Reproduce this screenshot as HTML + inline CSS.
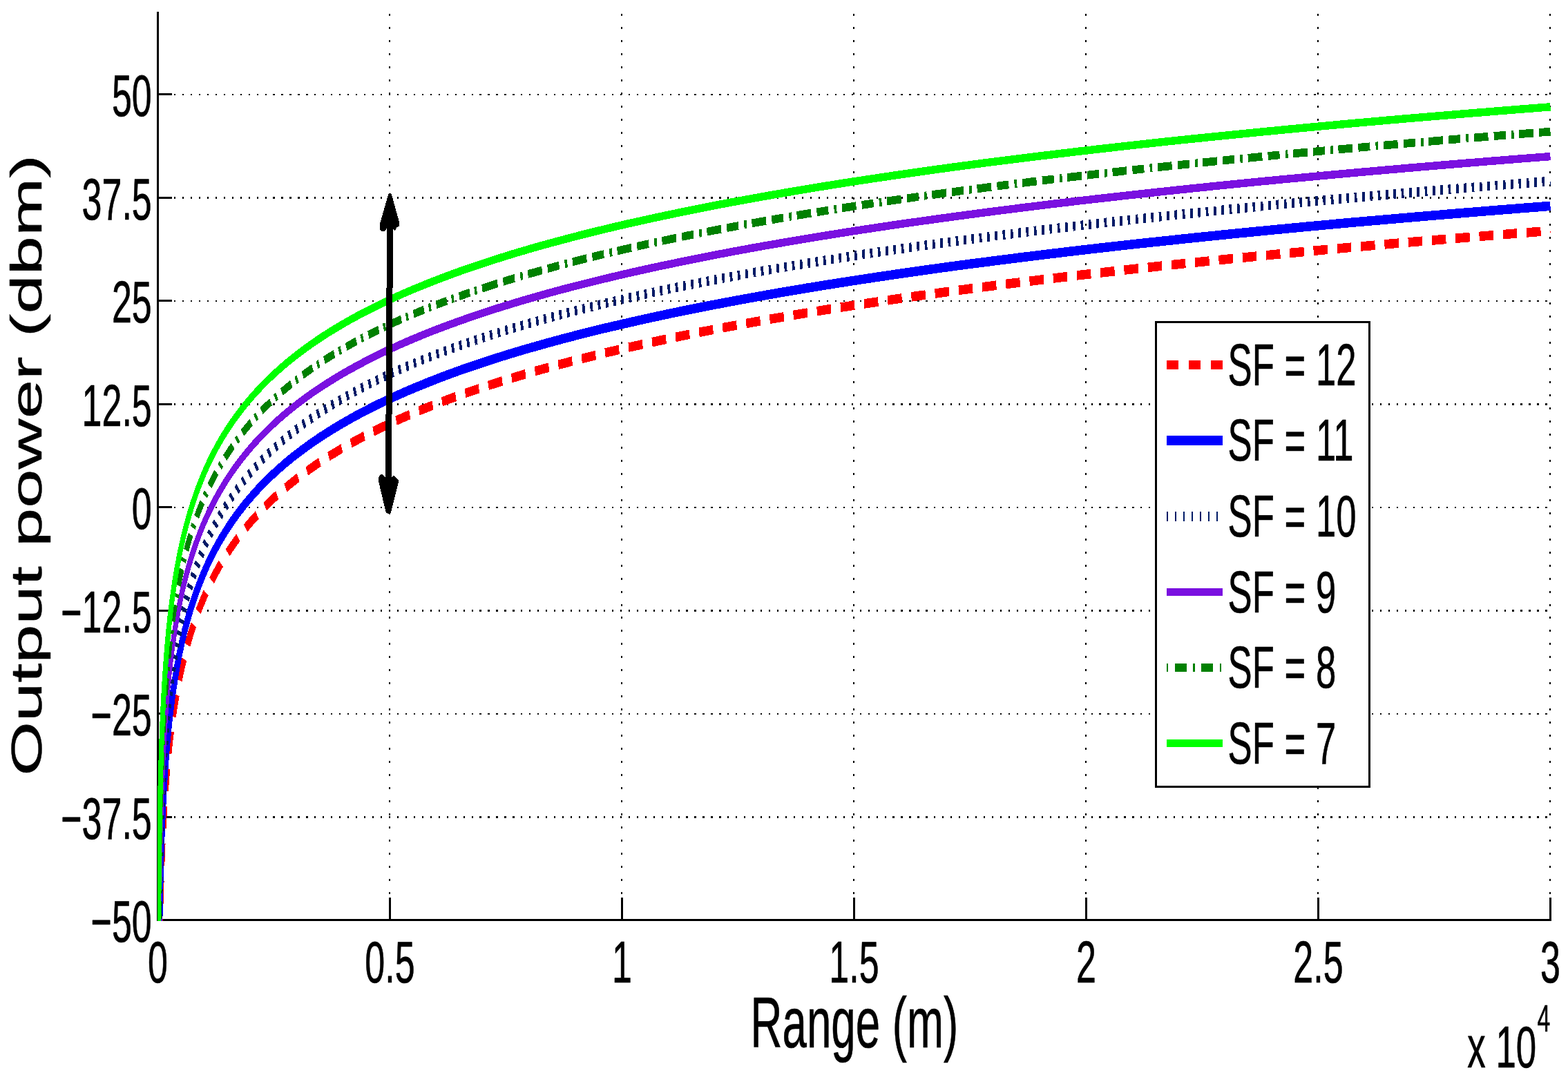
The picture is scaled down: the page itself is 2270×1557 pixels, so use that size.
<!DOCTYPE html>
<html lang="en"><head><meta charset="utf-8"><title>Output power vs Range</title>
<style>html,body{margin:0;padding:0;background:#fff}svg{display:block}text{font-family:"Liberation Sans",Arial,Helvetica,sans-serif;fill:#000;stroke:#000;stroke-width:0.7px;stroke-linejoin:round}</style></head><body>
<svg width="2270" height="1557" viewBox="0 0 2270 1557" role="img" aria-label="Output power (dbm) versus Range (m) for SF = 7 to SF = 12">
<rect x="0" y="0" width="2270" height="1557" fill="#fff"/>
<defs><clipPath id="ax"><rect x="228.00" y="17.00" width="2018.00" height="1317.00"/></clipPath></defs>
<g stroke="#000" fill="none" shape-rendering="crispEdges">
<line x1="251.95" y1="137.00" x2="2246.00" y2="137.00" stroke-width="2.2" stroke-dasharray="2.2 9.76"/>
<line x1="251.95" y1="286.50" x2="2246.00" y2="286.50" stroke-width="2.2" stroke-dasharray="2.2 9.76"/>
<line x1="251.95" y1="436.00" x2="2246.00" y2="436.00" stroke-width="2.2" stroke-dasharray="2.2 9.76"/>
<line x1="251.95" y1="585.50" x2="2246.00" y2="585.50" stroke-width="2.2" stroke-dasharray="2.2 9.76"/>
<line x1="251.95" y1="735.00" x2="2246.00" y2="735.00" stroke-width="2.2" stroke-dasharray="2.2 9.76"/>
<line x1="251.95" y1="884.50" x2="2246.00" y2="884.50" stroke-width="2.2" stroke-dasharray="2.2 9.76"/>
<line x1="251.95" y1="1034.00" x2="2246.00" y2="1034.00" stroke-width="2.2" stroke-dasharray="2.2 9.76"/>
<line x1="251.95" y1="1183.50" x2="2246.00" y2="1183.50" stroke-width="2.2" stroke-dasharray="2.2 9.76"/>
<line x1="564.20" y1="20.4" x2="564.20" y2="1300" stroke-width="2.2" stroke-dasharray="3 15.98"/>
<line x1="900.20" y1="20.4" x2="900.20" y2="1300" stroke-width="2.2" stroke-dasharray="3 15.98"/>
<line x1="1236.20" y1="20.4" x2="1236.20" y2="1300" stroke-width="2.2" stroke-dasharray="3 15.98"/>
<line x1="1572.20" y1="20.4" x2="1572.20" y2="1300" stroke-width="2.2" stroke-dasharray="3 15.98"/>
<line x1="1908.20" y1="20.4" x2="1908.20" y2="1300" stroke-width="2.2" stroke-dasharray="3 15.98"/>
<line x1="2244.20" y1="20.4" x2="2244.20" y2="1300" stroke-width="2.2" stroke-dasharray="3 15.98"/>
</g>
<g fill="#000" shape-rendering="crispEdges">
<rect x="227" y="17.0" width="3" height="1317.0"/>
<rect x="227" y="1331" width="2019" height="3"/>
<rect x="230" y="135.00" width="19" height="3"/>
<rect x="230" y="284.50" width="19" height="3"/>
<rect x="230" y="434.00" width="19" height="3"/>
<rect x="230" y="583.50" width="19" height="3"/>
<rect x="230" y="733.00" width="19" height="3"/>
<rect x="230" y="882.50" width="19" height="3"/>
<rect x="230" y="1032.00" width="19" height="3"/>
<rect x="230" y="1181.50" width="19" height="3"/>
<rect x="563.00" y="1300" width="3" height="31"/>
<rect x="899.00" y="1300" width="3" height="31"/>
<rect x="1235.00" y="1300" width="3" height="31"/>
<rect x="1571.00" y="1300" width="3" height="31"/>
<rect x="1907.00" y="1300" width="3" height="31"/>
<rect x="2243.00" y="1300" width="3" height="31"/>
</g>
<g clip-path="url(#ax)"><g transform="scale(0.63 1)" fill="none" stroke-linejoin="round" shape-rendering="crispEdges">
<path d="M363.2,1689.8 L363.2,1686.4 L363.3,1683.0 L363.3,1679.6 L363.3,1676.2 L363.3,1672.9 L363.3,1669.5 L363.3,1666.1 L363.3,1662.7 L363.3,1659.3 L363.4,1655.9 L363.4,1652.5 L363.4,1649.1 L363.4,1645.7 L363.4,1642.4 L363.4,1639.0 L363.5,1635.6 L363.5,1632.2 L363.5,1628.8 L363.5,1625.4 L363.5,1622.0 L363.5,1618.6 L363.6,1615.2 L363.6,1611.9 L363.6,1608.5 L363.6,1605.1 L363.6,1601.7 L363.7,1598.3 L363.7,1594.9 L363.7,1591.5 L363.7,1588.1 L363.7,1584.7 L363.8,1581.4 L363.8,1578.0 L363.8,1574.6 L363.8,1571.2 L363.9,1567.8 L363.9,1564.4 L363.9,1561.0 L363.9,1557.6 L364.0,1554.2 L364.0,1550.9 L364.0,1547.5 L364.1,1544.1 L364.1,1540.7 L364.1,1537.3 L364.1,1533.9 L364.2,1530.5 L364.2,1527.1 L364.2,1523.7 L364.3,1520.3 L364.3,1517.0 L364.4,1513.6 L364.4,1510.2 L364.4,1506.8 L364.5,1503.4 L364.5,1500.0 L364.5,1496.6 L364.6,1493.2 L364.6,1489.8 L364.7,1486.5 L364.7,1483.1 L364.8,1479.7 L364.8,1476.3 L364.8,1472.9 L364.9,1469.5 L364.9,1466.1 L365.0,1462.7 L365.0,1459.3 L365.1,1456.0 L365.1,1452.6 L365.2,1449.2 L365.3,1445.8 L365.3,1442.4 L365.4,1439.0 L365.4,1435.6 L365.5,1432.2 L365.5,1428.8 L365.6,1425.5 L365.7,1422.1 L365.7,1418.7 L365.8,1415.3 L365.9,1411.9 L365.9,1408.5 L366.0,1405.1 L366.1,1401.7 L366.2,1398.3 L366.2,1395.0 L366.3,1391.6 L366.4,1388.2 L366.5,1384.8 L366.6,1381.4 L366.6,1378.0 L366.7,1374.6 L366.8,1371.2 L366.9,1367.8 L367.0,1364.5 L367.1,1361.1 L367.2,1357.7 L367.3,1354.3 L367.4,1350.9 L367.5,1347.5 L367.6,1344.1 L367.7,1340.7 L367.8,1337.3 L367.9,1334.0 L368.0,1330.6 L368.2,1327.2 L368.3,1323.8 L368.4,1320.4 L368.5,1317.0 L368.7,1313.6 L368.8,1310.2 L368.9,1306.8 L369.1,1303.5 L369.2,1300.1 L369.3,1296.7 L369.5,1293.3 L369.6,1289.9 L369.8,1286.5 L370.0,1283.1 L370.1,1279.7 L370.3,1276.3 L370.4,1273.0 L370.6,1269.6 L370.8,1266.2 L371.0,1262.8 L371.1,1259.4 L371.3,1256.0 L371.5,1252.6 L371.7,1249.2 L371.9,1245.8 L372.1,1242.5 L372.3,1239.1 L372.5,1235.7 L372.7,1232.3 L373.0,1228.9 L373.2,1225.5 L373.4,1222.1 L373.7,1218.7 L373.9,1215.3 L374.1,1212.0 L374.4,1208.6 L374.7,1205.2 L374.9,1201.8 L375.2,1198.4 L375.5,1195.0 L375.7,1191.6 L376.0,1188.2 L376.3,1184.8 L376.6,1181.4 L376.9,1178.1 L377.2,1174.7 L377.6,1171.3 L377.9,1167.9 L378.2,1164.5 L378.6,1161.1 L378.9,1157.7 L379.3,1154.3 L379.6,1150.9 L380.0,1147.6 L380.4,1144.2 L380.8,1140.8 L381.2,1137.4 L381.6,1134.0 L382.0,1130.6 L382.4,1127.2 L382.9,1123.8 L383.3,1120.4 L383.7,1117.1 L384.2,1113.7 L384.7,1110.3 L385.2,1106.9 L385.7,1103.5 L386.2,1100.1 L386.7,1096.7 L387.2,1093.3 L387.7,1089.9 L388.3,1086.6 L388.9,1083.2 L389.4,1079.8 L390.0,1076.4 L390.6,1073.0 L391.2,1069.6 L391.9,1066.2 L392.5,1062.8 L393.2,1059.4 L393.8,1056.1 L394.5,1052.7 L395.2,1049.3 L395.9,1045.9 L396.7,1042.5 L397.4,1039.1 L398.2,1035.7 L399.0,1032.3 L399.8,1028.9 L400.6,1025.6 L401.4,1022.2 L402.3,1018.8 L403.1,1015.4 L404.0,1012.0 L404.9,1008.6 L405.8,1005.2 L406.8,1001.8 L407.8,998.4 L408.8,995.1 L409.8,991.7 L410.8,988.3 L411.9,984.9 L412.9,981.5 L414.0,978.1 L415.2,974.7 L416.3,971.3 L417.5,967.9 L418.7,964.6 L419.9,961.2 L421.2,957.8 L422.5,954.4 L423.8,951.0 L425.1,947.6 L426.5,944.2 L427.9,940.8 L429.4,937.4 L430.8,934.1 L432.3,930.7 L433.9,927.3 L435.4,923.9 L437.0,920.5 L438.7,917.1 L440.3,913.7 L442.0,910.3 L443.8,906.9 L445.6,903.6 L447.4,900.2 L449.2,896.8 L451.1,893.4 L453.1,890.0 L455.1,886.6 L457.1,883.2 L459.2,879.8 L461.3,876.4 L463.5,873.1 L465.7,869.7 L467.9,866.3 L470.3,862.9 L472.6,859.5 L475.0,856.1 L477.5,852.7 L480.0,849.3 L482.6,845.9 L485.3,842.5 L488.0,839.2 L490.7,835.8 L493.5,832.4 L496.4,829.0 L499.3,825.6 L502.3,822.2 L505.4,818.8 L508.5,815.4 L511.8,812.0 L515.0,808.7 L518.4,805.3 L521.8,801.9 L525.3,798.5 L528.9,795.1 L532.5,791.7 L536.3,788.3 L540.1,784.9 L544.0,781.5 L548.0,778.2 L552.0,774.8 L556.2,771.4 L560.5,768.0 L564.8,764.6 L569.3,761.2 L573.8,757.8 L578.4,754.4 L583.2,751.0 L588.0,747.7 L593.0,744.3 L598.0,740.9 L603.2,737.5 L608.5,734.1 L613.9,730.7 L619.4,727.3 L625.1,723.9 L630.8,720.5 L636.7,717.2 L642.8,713.8 L648.9,710.4 L655.2,707.0 L661.7,703.6 L668.2,700.2 L674.9,696.8 L681.8,693.4 L688.8,690.0 L696.0,686.7 L703.3,683.3 L710.8,679.9 L718.5,676.5 L726.3,673.1 L734.3,669.7 L742.5,666.3 L750.8,662.9 L759.3,659.5 L768.1,656.2 L777.0,652.8 L786.1,649.4 L795.4,646.0 L804.9,642.6 L814.6,639.2 L824.6,635.8 L834.7,632.4 L845.1,629.0 L855.7,625.7 L866.5,622.3 L877.6,618.9 L888.9,615.5 L900.5,612.1 L912.3,608.7 L924.4,605.3 L936.8,601.9 L949.4,598.5 L962.3,595.2 L975.5,591.8 L988.9,588.4 L1002.7,585.0 L1016.8,581.6 L1031.2,578.2 L1045.9,574.8 L1060.9,571.4 L1076.2,568.0 L1091.9,564.7 L1108.0,561.3 L1124.3,557.9 L1141.1,554.5 L1158.2,551.1 L1175.7,547.7 L1193.6,544.3 L1211.8,540.9 L1230.5,537.5 L1249.6,534.1 L1269.1,530.8 L1289.0,527.4 L1309.4,524.0 L1330.2,520.6 L1351.5,517.2 L1373.2,513.8 L1395.4,510.4 L1418.1,507.0 L1441.3,503.6 L1465.1,500.3 L1489.3,496.9 L1514.1,493.5 L1539.4,490.1 L1565.3,486.7 L1591.7,483.3 L1618.7,479.9 L1646.3,476.5 L1674.6,473.1 L1703.4,469.8 L1732.9,466.4 L1763.0,463.0 L1793.8,459.6 L1825.3,456.2 L1857.4,452.8 L1890.3,449.4 L1923.9,446.0 L1958.2,442.6 L1993.3,439.3 L2029.1,435.9 L2065.8,432.5 L2103.2,429.1 L2141.5,425.7 L2180.6,422.3 L2220.6,418.9 L2261.4,415.5 L2303.2,412.1 L2345.8,408.8 L2389.4,405.4 L2434.0,402.0 L2479.5,398.6 L2526.1,395.2 L2573.6,391.8 L2622.3,388.4 L2671.9,385.0 L2722.7,381.6 L2774.6,378.3 L2827.6,374.9 L2881.8,371.5 L2937.2,368.1 L2993.8,364.7 L3051.7,361.3 L3110.8,357.9 L3171.2,354.5 L3233.0,351.1 L3296.1,347.8 L3360.6,344.4 L3426.5,341.0 L3493.9,337.6 L3562.7,334.2" stroke="#ff0000" stroke-width="13.6" stroke-dasharray="32.5 22"/>
<path d="M363.2,1653.9 L363.2,1650.5 L363.3,1647.1 L363.3,1643.8 L363.3,1640.4 L363.3,1637.0 L363.3,1633.6 L363.3,1630.2 L363.3,1626.8 L363.3,1623.4 L363.4,1620.0 L363.4,1616.6 L363.4,1613.3 L363.4,1609.9 L363.4,1606.5 L363.4,1603.1 L363.5,1599.7 L363.5,1596.3 L363.5,1592.9 L363.5,1589.5 L363.5,1586.1 L363.5,1582.8 L363.6,1579.4 L363.6,1576.0 L363.6,1572.6 L363.6,1569.2 L363.6,1565.8 L363.7,1562.4 L363.7,1559.0 L363.7,1555.6 L363.7,1552.2 L363.7,1548.9 L363.8,1545.5 L363.8,1542.1 L363.8,1538.7 L363.8,1535.3 L363.9,1531.9 L363.9,1528.5 L363.9,1525.1 L363.9,1521.7 L364.0,1518.4 L364.0,1515.0 L364.0,1511.6 L364.1,1508.2 L364.1,1504.8 L364.1,1501.4 L364.1,1498.0 L364.2,1494.6 L364.2,1491.2 L364.2,1487.9 L364.3,1484.5 L364.3,1481.1 L364.4,1477.7 L364.4,1474.3 L364.4,1470.9 L364.5,1467.5 L364.5,1464.1 L364.5,1460.7 L364.6,1457.4 L364.6,1454.0 L364.7,1450.6 L364.7,1447.2 L364.8,1443.8 L364.8,1440.4 L364.8,1437.0 L364.9,1433.6 L364.9,1430.2 L365.0,1426.9 L365.0,1423.5 L365.1,1420.1 L365.1,1416.7 L365.2,1413.3 L365.3,1409.9 L365.3,1406.5 L365.4,1403.1 L365.4,1399.7 L365.5,1396.4 L365.5,1393.0 L365.6,1389.6 L365.7,1386.2 L365.7,1382.8 L365.8,1379.4 L365.9,1376.0 L365.9,1372.6 L366.0,1369.2 L366.1,1365.9 L366.2,1362.5 L366.2,1359.1 L366.3,1355.7 L366.4,1352.3 L366.5,1348.9 L366.6,1345.5 L366.6,1342.1 L366.7,1338.7 L366.8,1335.4 L366.9,1332.0 L367.0,1328.6 L367.1,1325.2 L367.2,1321.8 L367.3,1318.4 L367.4,1315.0 L367.5,1311.6 L367.6,1308.2 L367.7,1304.9 L367.8,1301.5 L367.9,1298.1 L368.0,1294.7 L368.2,1291.3 L368.3,1287.9 L368.4,1284.5 L368.5,1281.1 L368.7,1277.7 L368.8,1274.4 L368.9,1271.0 L369.1,1267.6 L369.2,1264.2 L369.3,1260.8 L369.5,1257.4 L369.6,1254.0 L369.8,1250.6 L370.0,1247.2 L370.1,1243.9 L370.3,1240.5 L370.4,1237.1 L370.6,1233.7 L370.8,1230.3 L371.0,1226.9 L371.1,1223.5 L371.3,1220.1 L371.5,1216.7 L371.7,1213.3 L371.9,1210.0 L372.1,1206.6 L372.3,1203.2 L372.5,1199.8 L372.7,1196.4 L373.0,1193.0 L373.2,1189.6 L373.4,1186.2 L373.7,1182.8 L373.9,1179.5 L374.1,1176.1 L374.4,1172.7 L374.7,1169.3 L374.9,1165.9 L375.2,1162.5 L375.5,1159.1 L375.7,1155.7 L376.0,1152.3 L376.3,1149.0 L376.6,1145.6 L376.9,1142.2 L377.2,1138.8 L377.6,1135.4 L377.9,1132.0 L378.2,1128.6 L378.6,1125.2 L378.9,1121.8 L379.3,1118.5 L379.6,1115.1 L380.0,1111.7 L380.4,1108.3 L380.8,1104.9 L381.2,1101.5 L381.6,1098.1 L382.0,1094.7 L382.4,1091.3 L382.9,1088.0 L383.3,1084.6 L383.7,1081.2 L384.2,1077.8 L384.7,1074.4 L385.2,1071.0 L385.7,1067.6 L386.2,1064.2 L386.7,1060.8 L387.2,1057.5 L387.7,1054.1 L388.3,1050.7 L388.9,1047.3 L389.4,1043.9 L390.0,1040.5 L390.6,1037.1 L391.2,1033.7 L391.9,1030.3 L392.5,1027.0 L393.2,1023.6 L393.8,1020.2 L394.5,1016.8 L395.2,1013.4 L395.9,1010.0 L396.7,1006.6 L397.4,1003.2 L398.2,999.8 L399.0,996.5 L399.8,993.1 L400.6,989.7 L401.4,986.3 L402.3,982.9 L403.1,979.5 L404.0,976.1 L404.9,972.7 L405.8,969.3 L406.8,966.0 L407.8,962.6 L408.8,959.2 L409.8,955.8 L410.8,952.4 L411.9,949.0 L412.9,945.6 L414.0,942.2 L415.2,938.8 L416.3,935.5 L417.5,932.1 L418.7,928.7 L419.9,925.3 L421.2,921.9 L422.5,918.5 L423.8,915.1 L425.1,911.7 L426.5,908.3 L427.9,905.0 L429.4,901.6 L430.8,898.2 L432.3,894.8 L433.9,891.4 L435.4,888.0 L437.0,884.6 L438.7,881.2 L440.3,877.8 L442.0,874.4 L443.8,871.1 L445.6,867.7 L447.4,864.3 L449.2,860.9 L451.1,857.5 L453.1,854.1 L455.1,850.7 L457.1,847.3 L459.2,843.9 L461.3,840.6 L463.5,837.2 L465.7,833.8 L467.9,830.4 L470.3,827.0 L472.6,823.6 L475.0,820.2 L477.5,816.8 L480.0,813.4 L482.6,810.1 L485.3,806.7 L488.0,803.3 L490.7,799.9 L493.5,796.5 L496.4,793.1 L499.3,789.7 L502.3,786.3 L505.4,782.9 L508.5,779.6 L511.8,776.2 L515.0,772.8 L518.4,769.4 L521.8,766.0 L525.3,762.6 L528.9,759.2 L532.5,755.8 L536.3,752.4 L540.1,749.1 L544.0,745.7 L548.0,742.3 L552.0,738.9 L556.2,735.5 L560.5,732.1 L564.8,728.7 L569.3,725.3 L573.8,721.9 L578.4,718.6 L583.2,715.2 L588.0,711.8 L593.0,708.4 L598.0,705.0 L603.2,701.6 L608.5,698.2 L613.9,694.8 L619.4,691.4 L625.1,688.1 L630.8,684.7 L636.7,681.3 L642.8,677.9 L648.9,674.5 L655.2,671.1 L661.7,667.7 L668.2,664.3 L674.9,660.9 L681.8,657.6 L688.8,654.2 L696.0,650.8 L703.3,647.4 L710.8,644.0 L718.5,640.6 L726.3,637.2 L734.3,633.8 L742.5,630.4 L750.8,627.1 L759.3,623.7 L768.1,620.3 L777.0,616.9 L786.1,613.5 L795.4,610.1 L804.9,606.7 L814.6,603.3 L824.6,599.9 L834.7,596.6 L845.1,593.2 L855.7,589.8 L866.5,586.4 L877.6,583.0 L888.9,579.6 L900.5,576.2 L912.3,572.8 L924.4,569.4 L936.8,566.0 L949.4,562.7 L962.3,559.3 L975.5,555.9 L988.9,552.5 L1002.7,549.1 L1016.8,545.7 L1031.2,542.3 L1045.9,538.9 L1060.9,535.5 L1076.2,532.2 L1091.9,528.8 L1108.0,525.4 L1124.3,522.0 L1141.1,518.6 L1158.2,515.2 L1175.7,511.8 L1193.6,508.4 L1211.8,505.0 L1230.5,501.7 L1249.6,498.3 L1269.1,494.9 L1289.0,491.5 L1309.4,488.1 L1330.2,484.7 L1351.5,481.3 L1373.2,477.9 L1395.4,474.5 L1418.1,471.2 L1441.3,467.8 L1465.1,464.4 L1489.3,461.0 L1514.1,457.6 L1539.4,454.2 L1565.3,450.8 L1591.7,447.4 L1618.7,444.0 L1646.3,440.7 L1674.6,437.3 L1703.4,433.9 L1732.9,430.5 L1763.0,427.1 L1793.8,423.7 L1825.3,420.3 L1857.4,416.9 L1890.3,413.5 L1923.9,410.2 L1958.2,406.8 L1993.3,403.4 L2029.1,400.0 L2065.8,396.6 L2103.2,393.2 L2141.5,389.8 L2180.6,386.4 L2220.6,383.0 L2261.4,379.7 L2303.2,376.3 L2345.8,372.9 L2389.4,369.5 L2434.0,366.1 L2479.5,362.7 L2526.1,359.3 L2573.6,355.9 L2622.3,352.5 L2671.9,349.2 L2722.7,345.8 L2774.6,342.4 L2827.6,339.0 L2881.8,335.6 L2937.2,332.2 L2993.8,328.8 L3051.7,325.4 L3110.8,322.0 L3171.2,318.7 L3233.0,315.3 L3296.1,311.9 L3360.6,308.5 L3426.5,305.1 L3493.9,301.7 L3562.7,298.3" stroke="#0000ff" stroke-width="13.6"/>
<path d="M363.2,1618.0 L363.2,1614.7 L363.3,1611.3 L363.3,1607.9 L363.3,1604.5 L363.3,1601.1 L363.3,1597.7 L363.3,1594.3 L363.3,1590.9 L363.3,1587.5 L363.4,1584.1 L363.4,1580.8 L363.4,1577.4 L363.4,1574.0 L363.4,1570.6 L363.4,1567.2 L363.5,1563.8 L363.5,1560.4 L363.5,1557.0 L363.5,1553.6 L363.5,1550.3 L363.5,1546.9 L363.6,1543.5 L363.6,1540.1 L363.6,1536.7 L363.6,1533.3 L363.6,1529.9 L363.7,1526.5 L363.7,1523.1 L363.7,1519.8 L363.7,1516.4 L363.7,1513.0 L363.8,1509.6 L363.8,1506.2 L363.8,1502.8 L363.8,1499.4 L363.9,1496.0 L363.9,1492.6 L363.9,1489.3 L363.9,1485.9 L364.0,1482.5 L364.0,1479.1 L364.0,1475.7 L364.1,1472.3 L364.1,1468.9 L364.1,1465.5 L364.1,1462.1 L364.2,1458.8 L364.2,1455.4 L364.2,1452.0 L364.3,1448.6 L364.3,1445.2 L364.4,1441.8 L364.4,1438.4 L364.4,1435.0 L364.5,1431.6 L364.5,1428.3 L364.5,1424.9 L364.6,1421.5 L364.6,1418.1 L364.7,1414.7 L364.7,1411.3 L364.8,1407.9 L364.8,1404.5 L364.8,1401.1 L364.9,1397.8 L364.9,1394.4 L365.0,1391.0 L365.0,1387.6 L365.1,1384.2 L365.1,1380.8 L365.2,1377.4 L365.3,1374.0 L365.3,1370.6 L365.4,1367.3 L365.4,1363.9 L365.5,1360.5 L365.5,1357.1 L365.6,1353.7 L365.7,1350.3 L365.7,1346.9 L365.8,1343.5 L365.9,1340.1 L365.9,1336.8 L366.0,1333.4 L366.1,1330.0 L366.2,1326.6 L366.2,1323.2 L366.3,1319.8 L366.4,1316.4 L366.5,1313.0 L366.6,1309.6 L366.6,1306.3 L366.7,1302.9 L366.8,1299.5 L366.9,1296.1 L367.0,1292.7 L367.1,1289.3 L367.2,1285.9 L367.3,1282.5 L367.4,1279.1 L367.5,1275.8 L367.6,1272.4 L367.7,1269.0 L367.8,1265.6 L367.9,1262.2 L368.0,1258.8 L368.2,1255.4 L368.3,1252.0 L368.4,1248.6 L368.5,1245.2 L368.7,1241.9 L368.8,1238.5 L368.9,1235.1 L369.1,1231.7 L369.2,1228.3 L369.3,1224.9 L369.5,1221.5 L369.6,1218.1 L369.8,1214.7 L370.0,1211.4 L370.1,1208.0 L370.3,1204.6 L370.4,1201.2 L370.6,1197.8 L370.8,1194.4 L371.0,1191.0 L371.1,1187.6 L371.3,1184.2 L371.5,1180.9 L371.7,1177.5 L371.9,1174.1 L372.1,1170.7 L372.3,1167.3 L372.5,1163.9 L372.7,1160.5 L373.0,1157.1 L373.2,1153.7 L373.4,1150.4 L373.7,1147.0 L373.9,1143.6 L374.1,1140.2 L374.4,1136.8 L374.7,1133.4 L374.9,1130.0 L375.2,1126.6 L375.5,1123.2 L375.7,1119.9 L376.0,1116.5 L376.3,1113.1 L376.6,1109.7 L376.9,1106.3 L377.2,1102.9 L377.6,1099.5 L377.9,1096.1 L378.2,1092.7 L378.6,1089.4 L378.9,1086.0 L379.3,1082.6 L379.6,1079.2 L380.0,1075.8 L380.4,1072.4 L380.8,1069.0 L381.2,1065.6 L381.6,1062.2 L382.0,1058.9 L382.4,1055.5 L382.9,1052.1 L383.3,1048.7 L383.7,1045.3 L384.2,1041.9 L384.7,1038.5 L385.2,1035.1 L385.7,1031.7 L386.2,1028.4 L386.7,1025.0 L387.2,1021.6 L387.7,1018.2 L388.3,1014.8 L388.9,1011.4 L389.4,1008.0 L390.0,1004.6 L390.6,1001.2 L391.2,997.9 L391.9,994.5 L392.5,991.1 L393.2,987.7 L393.8,984.3 L394.5,980.9 L395.2,977.5 L395.9,974.1 L396.7,970.7 L397.4,967.4 L398.2,964.0 L399.0,960.6 L399.8,957.2 L400.6,953.8 L401.4,950.4 L402.3,947.0 L403.1,943.6 L404.0,940.2 L404.9,936.9 L405.8,933.5 L406.8,930.1 L407.8,926.7 L408.8,923.3 L409.8,919.9 L410.8,916.5 L411.9,913.1 L412.9,909.7 L414.0,906.3 L415.2,903.0 L416.3,899.6 L417.5,896.2 L418.7,892.8 L419.9,889.4 L421.2,886.0 L422.5,882.6 L423.8,879.2 L425.1,875.8 L426.5,872.5 L427.9,869.1 L429.4,865.7 L430.8,862.3 L432.3,858.9 L433.9,855.5 L435.4,852.1 L437.0,848.7 L438.7,845.3 L440.3,842.0 L442.0,838.6 L443.8,835.2 L445.6,831.8 L447.4,828.4 L449.2,825.0 L451.1,821.6 L453.1,818.2 L455.1,814.8 L457.1,811.5 L459.2,808.1 L461.3,804.7 L463.5,801.3 L465.7,797.9 L467.9,794.5 L470.3,791.1 L472.6,787.7 L475.0,784.3 L477.5,781.0 L480.0,777.6 L482.6,774.2 L485.3,770.8 L488.0,767.4 L490.7,764.0 L493.5,760.6 L496.4,757.2 L499.3,753.8 L502.3,750.5 L505.4,747.1 L508.5,743.7 L511.8,740.3 L515.0,736.9 L518.4,733.5 L521.8,730.1 L525.3,726.7 L528.9,723.3 L532.5,720.0 L536.3,716.6 L540.1,713.2 L544.0,709.8 L548.0,706.4 L552.0,703.0 L556.2,699.6 L560.5,696.2 L564.8,692.8 L569.3,689.5 L573.8,686.1 L578.4,682.7 L583.2,679.3 L588.0,675.9 L593.0,672.5 L598.0,669.1 L603.2,665.7 L608.5,662.3 L613.9,659.0 L619.4,655.6 L625.1,652.2 L630.8,648.8 L636.7,645.4 L642.8,642.0 L648.9,638.6 L655.2,635.2 L661.7,631.8 L668.2,628.5 L674.9,625.1 L681.8,621.7 L688.8,618.3 L696.0,614.9 L703.3,611.5 L710.8,608.1 L718.5,604.7 L726.3,601.3 L734.3,597.9 L742.5,594.6 L750.8,591.2 L759.3,587.8 L768.1,584.4 L777.0,581.0 L786.1,577.6 L795.4,574.2 L804.9,570.8 L814.6,567.4 L824.6,564.1 L834.7,560.7 L845.1,557.3 L855.7,553.9 L866.5,550.5 L877.6,547.1 L888.9,543.7 L900.5,540.3 L912.3,536.9 L924.4,533.6 L936.8,530.2 L949.4,526.8 L962.3,523.4 L975.5,520.0 L988.9,516.6 L1002.7,513.2 L1016.8,509.8 L1031.2,506.4 L1045.9,503.1 L1060.9,499.7 L1076.2,496.3 L1091.9,492.9 L1108.0,489.5 L1124.3,486.1 L1141.1,482.7 L1158.2,479.3 L1175.7,475.9 L1193.6,472.6 L1211.8,469.2 L1230.5,465.8 L1249.6,462.4 L1269.1,459.0 L1289.0,455.6 L1309.4,452.2 L1330.2,448.8 L1351.5,445.4 L1373.2,442.1 L1395.4,438.7 L1418.1,435.3 L1441.3,431.9 L1465.1,428.5 L1489.3,425.1 L1514.1,421.7 L1539.4,418.3 L1565.3,414.9 L1591.7,411.6 L1618.7,408.2 L1646.3,404.8 L1674.6,401.4 L1703.4,398.0 L1732.9,394.6 L1763.0,391.2 L1793.8,387.8 L1825.3,384.4 L1857.4,381.1 L1890.3,377.7 L1923.9,374.3 L1958.2,370.9 L1993.3,367.5 L2029.1,364.1 L2065.8,360.7 L2103.2,357.3 L2141.5,353.9 L2180.6,350.6 L2220.6,347.2 L2261.4,343.8 L2303.2,340.4 L2345.8,337.0 L2389.4,333.6 L2434.0,330.2 L2479.5,326.8 L2526.1,323.4 L2573.6,320.1 L2622.3,316.7 L2671.9,313.3 L2722.7,309.9 L2774.6,306.5 L2827.6,303.1 L2881.8,299.7 L2937.2,296.3 L2993.8,292.9 L3051.7,289.6 L3110.8,286.2 L3171.2,282.8 L3233.0,279.4 L3296.1,276.0 L3360.6,272.6 L3426.5,269.2 L3493.9,265.8 L3562.7,262.4" stroke="#001a66" stroke-width="13.6" stroke-dasharray="6 12"/>
<path d="M363.2,1582.2 L363.2,1578.8 L363.3,1575.4 L363.3,1572.0 L363.3,1568.6 L363.3,1565.2 L363.3,1561.8 L363.3,1558.4 L363.3,1555.0 L363.3,1551.7 L363.4,1548.3 L363.4,1544.9 L363.4,1541.5 L363.4,1538.1 L363.4,1534.7 L363.4,1531.3 L363.5,1527.9 L363.5,1524.5 L363.5,1521.2 L363.5,1517.8 L363.5,1514.4 L363.5,1511.0 L363.6,1507.6 L363.6,1504.2 L363.6,1500.8 L363.6,1497.4 L363.6,1494.0 L363.7,1490.7 L363.7,1487.3 L363.7,1483.9 L363.7,1480.5 L363.7,1477.1 L363.8,1473.7 L363.8,1470.3 L363.8,1466.9 L363.8,1463.5 L363.9,1460.2 L363.9,1456.8 L363.9,1453.4 L363.9,1450.0 L364.0,1446.6 L364.0,1443.2 L364.0,1439.8 L364.1,1436.4 L364.1,1433.0 L364.1,1429.7 L364.1,1426.3 L364.2,1422.9 L364.2,1419.5 L364.2,1416.1 L364.3,1412.7 L364.3,1409.3 L364.4,1405.9 L364.4,1402.5 L364.4,1399.2 L364.5,1395.8 L364.5,1392.4 L364.5,1389.0 L364.6,1385.6 L364.6,1382.2 L364.7,1378.8 L364.7,1375.4 L364.8,1372.0 L364.8,1368.7 L364.8,1365.3 L364.9,1361.9 L364.9,1358.5 L365.0,1355.1 L365.0,1351.7 L365.1,1348.3 L365.1,1344.9 L365.2,1341.5 L365.3,1338.2 L365.3,1334.8 L365.4,1331.4 L365.4,1328.0 L365.5,1324.6 L365.5,1321.2 L365.6,1317.8 L365.7,1314.4 L365.7,1311.0 L365.8,1307.7 L365.9,1304.3 L365.9,1300.9 L366.0,1297.5 L366.1,1294.1 L366.2,1290.7 L366.2,1287.3 L366.3,1283.9 L366.4,1280.5 L366.5,1277.1 L366.6,1273.8 L366.6,1270.4 L366.7,1267.0 L366.8,1263.6 L366.9,1260.2 L367.0,1256.8 L367.1,1253.4 L367.2,1250.0 L367.3,1246.6 L367.4,1243.3 L367.5,1239.9 L367.6,1236.5 L367.7,1233.1 L367.8,1229.7 L367.9,1226.3 L368.0,1222.9 L368.2,1219.5 L368.3,1216.1 L368.4,1212.8 L368.5,1209.4 L368.7,1206.0 L368.8,1202.6 L368.9,1199.2 L369.1,1195.8 L369.2,1192.4 L369.3,1189.0 L369.5,1185.6 L369.6,1182.3 L369.8,1178.9 L370.0,1175.5 L370.1,1172.1 L370.3,1168.7 L370.4,1165.3 L370.6,1161.9 L370.8,1158.5 L371.0,1155.1 L371.1,1151.8 L371.3,1148.4 L371.5,1145.0 L371.7,1141.6 L371.9,1138.2 L372.1,1134.8 L372.3,1131.4 L372.5,1128.0 L372.7,1124.6 L373.0,1121.3 L373.2,1117.9 L373.4,1114.5 L373.7,1111.1 L373.9,1107.7 L374.1,1104.3 L374.4,1100.9 L374.7,1097.5 L374.9,1094.1 L375.2,1090.8 L375.5,1087.4 L375.7,1084.0 L376.0,1080.6 L376.3,1077.2 L376.6,1073.8 L376.9,1070.4 L377.2,1067.0 L377.6,1063.6 L377.9,1060.3 L378.2,1056.9 L378.6,1053.5 L378.9,1050.1 L379.3,1046.7 L379.6,1043.3 L380.0,1039.9 L380.4,1036.5 L380.8,1033.1 L381.2,1029.8 L381.6,1026.4 L382.0,1023.0 L382.4,1019.6 L382.9,1016.2 L383.3,1012.8 L383.7,1009.4 L384.2,1006.0 L384.7,1002.6 L385.2,999.3 L385.7,995.9 L386.2,992.5 L386.7,989.1 L387.2,985.7 L387.7,982.3 L388.3,978.9 L388.9,975.5 L389.4,972.1 L390.0,968.8 L390.6,965.4 L391.2,962.0 L391.9,958.6 L392.5,955.2 L393.2,951.8 L393.8,948.4 L394.5,945.0 L395.2,941.6 L395.9,938.2 L396.7,934.9 L397.4,931.5 L398.2,928.1 L399.0,924.7 L399.8,921.3 L400.6,917.9 L401.4,914.5 L402.3,911.1 L403.1,907.7 L404.0,904.4 L404.9,901.0 L405.8,897.6 L406.8,894.2 L407.8,890.8 L408.8,887.4 L409.8,884.0 L410.8,880.6 L411.9,877.2 L412.9,873.9 L414.0,870.5 L415.2,867.1 L416.3,863.7 L417.5,860.3 L418.7,856.9 L419.9,853.5 L421.2,850.1 L422.5,846.7 L423.8,843.4 L425.1,840.0 L426.5,836.6 L427.9,833.2 L429.4,829.8 L430.8,826.4 L432.3,823.0 L433.9,819.6 L435.4,816.2 L437.0,812.9 L438.7,809.5 L440.3,806.1 L442.0,802.7 L443.8,799.3 L445.6,795.9 L447.4,792.5 L449.2,789.1 L451.1,785.7 L453.1,782.4 L455.1,779.0 L457.1,775.6 L459.2,772.2 L461.3,768.8 L463.5,765.4 L465.7,762.0 L467.9,758.6 L470.3,755.2 L472.6,751.9 L475.0,748.5 L477.5,745.1 L480.0,741.7 L482.6,738.3 L485.3,734.9 L488.0,731.5 L490.7,728.1 L493.5,724.7 L496.4,721.4 L499.3,718.0 L502.3,714.6 L505.4,711.2 L508.5,707.8 L511.8,704.4 L515.0,701.0 L518.4,697.6 L521.8,694.2 L525.3,690.9 L528.9,687.5 L532.5,684.1 L536.3,680.7 L540.1,677.3 L544.0,673.9 L548.0,670.5 L552.0,667.1 L556.2,663.7 L560.5,660.4 L564.8,657.0 L569.3,653.6 L573.8,650.2 L578.4,646.8 L583.2,643.4 L588.0,640.0 L593.0,636.6 L598.0,633.2 L603.2,629.8 L608.5,626.5 L613.9,623.1 L619.4,619.7 L625.1,616.3 L630.8,612.9 L636.7,609.5 L642.8,606.1 L648.9,602.7 L655.2,599.3 L661.7,596.0 L668.2,592.6 L674.9,589.2 L681.8,585.8 L688.8,582.4 L696.0,579.0 L703.3,575.6 L710.8,572.2 L718.5,568.8 L726.3,565.5 L734.3,562.1 L742.5,558.7 L750.8,555.3 L759.3,551.9 L768.1,548.5 L777.0,545.1 L786.1,541.7 L795.4,538.3 L804.9,535.0 L814.6,531.6 L824.6,528.2 L834.7,524.8 L845.1,521.4 L855.7,518.0 L866.5,514.6 L877.6,511.2 L888.9,507.8 L900.5,504.5 L912.3,501.1 L924.4,497.7 L936.8,494.3 L949.4,490.9 L962.3,487.5 L975.5,484.1 L988.9,480.7 L1002.7,477.3 L1016.8,474.0 L1031.2,470.6 L1045.9,467.2 L1060.9,463.8 L1076.2,460.4 L1091.9,457.0 L1108.0,453.6 L1124.3,450.2 L1141.1,446.8 L1158.2,443.5 L1175.7,440.1 L1193.6,436.7 L1211.8,433.3 L1230.5,429.9 L1249.6,426.5 L1269.1,423.1 L1289.0,419.7 L1309.4,416.3 L1330.2,413.0 L1351.5,409.6 L1373.2,406.2 L1395.4,402.8 L1418.1,399.4 L1441.3,396.0 L1465.1,392.6 L1489.3,389.2 L1514.1,385.8 L1539.4,382.5 L1565.3,379.1 L1591.7,375.7 L1618.7,372.3 L1646.3,368.9 L1674.6,365.5 L1703.4,362.1 L1732.9,358.7 L1763.0,355.3 L1793.8,352.0 L1825.3,348.6 L1857.4,345.2 L1890.3,341.8 L1923.9,338.4 L1958.2,335.0 L1993.3,331.6 L2029.1,328.2 L2065.8,324.8 L2103.2,321.5 L2141.5,318.1 L2180.6,314.7 L2220.6,311.3 L2261.4,307.9 L2303.2,304.5 L2345.8,301.1 L2389.4,297.7 L2434.0,294.3 L2479.5,290.9 L2526.1,287.6 L2573.6,284.2 L2622.3,280.8 L2671.9,277.4 L2722.7,274.0 L2774.6,270.6 L2827.6,267.2 L2881.8,263.8 L2937.2,260.4 L2993.8,257.1 L3051.7,253.7 L3110.8,250.3 L3171.2,246.9 L3233.0,243.5 L3296.1,240.1 L3360.6,236.7 L3426.5,233.3 L3493.9,229.9 L3562.7,226.6" stroke="#7a10e0" stroke-width="11.5"/>
<path d="M363.2,1546.3 L363.2,1543.5 L363.3,1540.6 L363.3,1537.8 L363.3,1535.0 L363.3,1532.2 L363.3,1529.3 L363.3,1526.5 L363.3,1523.7 L363.3,1520.9 L363.3,1518.0 L363.3,1515.2 L363.4,1512.4 L363.4,1509.6 L363.4,1506.8 L363.4,1503.9 L363.4,1501.1 L363.4,1498.3 L363.4,1495.5 L363.5,1492.6 L363.5,1489.8 L363.5,1487.0 L363.5,1484.2 L363.5,1481.4 L363.5,1478.5 L363.5,1475.7 L363.6,1472.9 L363.6,1470.1 L363.6,1467.2 L363.6,1464.4 L363.6,1461.6 L363.6,1458.8 L363.7,1455.9 L363.7,1453.1 L363.7,1450.3 L363.7,1447.5 L363.7,1444.7 L363.7,1441.8 L363.8,1439.0 L363.8,1436.2 L363.8,1433.4 L363.8,1430.5 L363.8,1427.7 L363.9,1424.9 L363.9,1422.1 L363.9,1419.2 L363.9,1416.4 L363.9,1413.6 L364.0,1410.8 L364.0,1408.0 L364.0,1405.1 L364.0,1402.3 L364.1,1399.5 L364.1,1396.7 L364.1,1393.8 L364.1,1391.0 L364.2,1388.2 L364.2,1385.4 L364.2,1382.5 L364.3,1379.7 L364.3,1376.9 L364.3,1374.1 L364.3,1371.3 L364.4,1368.4 L364.4,1365.6 L364.4,1362.8 L364.5,1360.0 L364.5,1357.1 L364.5,1354.3 L364.6,1351.5 L364.6,1348.7 L364.6,1345.8 L364.7,1343.0 L364.7,1340.2 L364.7,1337.4 L364.8,1334.6 L364.8,1331.7 L364.9,1328.9 L364.9,1326.1 L364.9,1323.3 L365.0,1320.4 L365.0,1317.6 L365.1,1314.8 L365.1,1312.0 L365.1,1309.2 L365.2,1306.3 L365.2,1303.5 L365.3,1300.7 L365.3,1297.9 L365.4,1295.0 L365.4,1292.2 L365.5,1289.4 L365.5,1286.6 L365.6,1283.7 L365.6,1280.9 L365.7,1278.1 L365.7,1275.3 L365.8,1272.5 L365.8,1269.6 L365.9,1266.8 L366.0,1264.0 L366.0,1261.2 L366.1,1258.3 L366.1,1255.5 L366.2,1252.7 L366.3,1249.9 L366.3,1247.0 L366.4,1244.2 L366.5,1241.4 L366.5,1238.6 L366.6,1235.8 L366.7,1232.9 L366.8,1230.1 L366.8,1227.3 L366.9,1224.5 L367.0,1221.6 L367.1,1218.8 L367.1,1216.0 L367.2,1213.2 L367.3,1210.3 L367.4,1207.5 L367.5,1204.7 L367.6,1201.9 L367.6,1199.1 L367.7,1196.2 L367.8,1193.4 L367.9,1190.6 L368.0,1187.8 L368.1,1184.9 L368.2,1182.1 L368.3,1179.3 L368.4,1176.5 L368.5,1173.6 L368.6,1170.8 L368.7,1168.0 L368.9,1165.2 L369.0,1162.4 L369.1,1159.5 L369.2,1156.7 L369.3,1153.9 L369.4,1151.1 L369.6,1148.2 L369.7,1145.4 L369.8,1142.6 L369.9,1139.8 L370.1,1136.9 L370.2,1134.1 L370.3,1131.3 L370.5,1128.5 L370.6,1125.7 L370.8,1122.8 L370.9,1120.0 L371.1,1117.2 L371.2,1114.4 L371.4,1111.5 L371.5,1108.7 L371.7,1105.9 L371.9,1103.1 L372.0,1100.3 L372.2,1097.4 L372.4,1094.6 L372.6,1091.8 L372.7,1089.0 L372.9,1086.1 L373.1,1083.3 L373.3,1080.5 L373.5,1077.7 L373.7,1074.8 L373.9,1072.0 L374.1,1069.2 L374.3,1066.4 L374.5,1063.6 L374.7,1060.7 L374.9,1057.9 L375.2,1055.1 L375.4,1052.3 L375.6,1049.4 L375.9,1046.6 L376.1,1043.8 L376.4,1041.0 L376.6,1038.1 L376.9,1035.3 L377.1,1032.5 L377.4,1029.7 L377.6,1026.9 L377.9,1024.0 L378.2,1021.2 L378.5,1018.4 L378.8,1015.6 L379.1,1012.7 L379.4,1009.9 L379.7,1007.1 L380.0,1004.3 L380.3,1001.4 L380.6,998.6 L380.9,995.8 L381.3,993.0 L381.6,990.2 L382.0,987.3 L382.3,984.5 L382.7,981.7 L383.0,978.9 L383.4,976.0 L383.8,973.2 L384.2,970.4 L384.6,967.6 L385.0,964.7 L385.4,961.9 L385.8,959.1 L386.2,956.3 L386.6,953.5 L387.1,950.6 L387.5,947.8 L388.0,945.0 L388.4,942.2 L388.9,939.3 L389.4,936.5 L389.9,933.7 L390.4,930.9 L390.9,928.0 L391.4,925.2 L391.9,922.4 L392.5,919.6 L393.0,916.8 L393.6,913.9 L394.1,911.1 L394.7,908.3 L395.3,905.5 L395.9,902.6 L396.5,899.8 L397.1,897.0 L397.7,894.2 L398.4,891.4 L399.0,888.5 L399.7,885.7 L400.4,882.9 L401.1,880.1 L401.8,877.2 L402.5,874.4 L403.2,871.6 L403.9,868.8 L404.7,865.9 L405.5,863.1 L406.2,860.3 L407.0,857.5 L407.8,854.7 L408.7,851.8 L409.5,849.0 L410.4,846.2 L411.2,843.4 L412.1,840.5 L413.0,837.7 L413.9,834.9 L414.9,832.1 L415.8,829.2 L416.8,826.4 L417.8,823.6 L418.8,820.8 L419.8,818.0 L420.9,815.1 L421.9,812.3 L423.0,809.5 L424.1,806.7 L425.2,803.8 L426.4,801.0 L427.6,798.2 L428.7,795.4 L429.9,792.5 L431.2,789.7 L432.4,786.9 L433.7,784.1 L435.0,781.3 L436.3,778.4 L437.7,775.6 L439.0,772.8 L440.4,770.0 L441.9,767.1 L443.3,764.3 L444.8,761.5 L446.3,758.7 L447.8,755.8 L449.4,753.0 L450.9,750.2 L452.6,747.4 L454.2,744.6 L455.9,741.7 L457.6,738.9 L459.3,736.1 L461.1,733.3 L462.9,730.4 L464.7,727.6 L466.6,724.8 L468.5,722.0 L470.4,719.2 L472.4,716.3 L474.4,713.5 L476.4,710.7 L478.5,707.9 L480.6,705.0 L482.8,702.2 L485.0,699.4 L487.2,696.6 L489.5,693.7 L491.8,690.9 L494.2,688.1 L496.6,685.3 L499.0,682.5 L501.5,679.6 L504.0,676.8 L506.6,674.0 L509.3,671.2 L511.9,668.3 L514.7,665.5 L517.4,662.7 L520.3,659.9 L523.2,657.0 L526.1,654.2 L529.1,651.4 L532.1,648.6 L535.2,645.8 L538.4,642.9 L541.6,640.1 L544.8,637.3 L548.2,634.5 L551.6,631.6 L555.0,628.8 L558.5,626.0 L562.1,623.2 L565.8,620.3 L569.5,617.5 L573.3,614.7 L577.1,611.9 L581.0,609.1 L585.0,606.2 L589.1,603.4 L593.2,600.6 L597.4,597.8 L601.7,594.9 L606.1,592.1 L610.5,589.3 L615.1,586.5 L619.7,583.6 L624.4,580.8 L629.2,578.0 L634.0,575.2 L639.0,572.4 L644.1,569.5 L649.2,566.7 L654.4,563.9 L659.8,561.1 L665.2,558.2 L670.7,555.4 L676.4,552.6 L682.1,549.8 L687.9,546.9 L693.9,544.1 L699.9,541.3 L706.1,538.5 L712.4,535.7 L718.8,532.8 L725.3,530.0 L731.9,527.2 L738.7,524.4 L745.5,521.5 L752.5,518.7 L759.7,515.9 L766.9,513.1 L774.3,510.3 L781.8,507.4 L789.5,504.6 L797.3,501.8 L805.2,499.0 L813.3,496.1 L821.6,493.3 L830.0,490.5 L838.5,487.7 L847.2,484.8 L856.1,482.0 L865.1,479.2 L874.3,476.4 L883.6,473.6 L893.1,470.7 L902.8,467.9 L912.7,465.1 L922.8,462.3 L933.0,459.4 L943.4,456.6 L954.0,453.8 L964.8,451.0 L975.9,448.1 L987.1,445.3 L998.5,442.5 L1010.1,439.7 L1021.9,436.9 L1034.0,434.0 L1046.3,431.2 L1058.8,428.4 L1071.5,425.6 L1084.4,422.7 L1097.6,419.9 L1111.1,417.1" stroke="#008000" stroke-width="11.8" stroke-dasharray="25 11 5.5 12.5"/>
<path d="M1111.1,417.1 L1113.8,416.5 L1116.5,416.0 L1119.3,415.4 L1122.0,414.8 L1124.8,414.3 L1127.6,413.7 L1130.3,413.1 L1133.1,412.6 L1135.9,412.0 L1138.8,411.4 L1141.6,410.9 L1144.4,410.3 L1147.3,409.7 L1150.1,409.2 L1153.0,408.6 L1155.9,408.0 L1158.7,407.5 L1161.6,406.9 L1164.5,406.3 L1167.5,405.8 L1170.4,405.2 L1173.3,404.6 L1176.3,404.1 L1179.2,403.5 L1182.2,402.9 L1185.2,402.4 L1188.2,401.8 L1191.2,401.2 L1194.2,400.7 L1197.2,400.1 L1200.3,399.5 L1203.3,399.0 L1206.4,398.4 L1209.4,397.8 L1212.5,397.3 L1215.6,396.7 L1218.7,396.1 L1221.8,395.6 L1225.0,395.0 L1228.1,394.5 L1231.3,393.9 L1234.4,393.3 L1237.6,392.8 L1240.8,392.2 L1244.0,391.6 L1247.2,391.1 L1250.4,390.5 L1253.6,389.9 L1256.9,389.4 L1260.1,388.8 L1263.4,388.2 L1266.7,387.7 L1270.0,387.1 L1273.3,386.5 L1276.6,386.0 L1279.9,385.4 L1283.2,384.8 L1286.6,384.3 L1289.9,383.7 L1293.3,383.1 L1296.7,382.6 L1300.1,382.0 L1303.5,381.4 L1306.9,380.9 L1310.4,380.3 L1313.8,379.7 L1317.3,379.2 L1320.8,378.6 L1324.2,378.0 L1327.7,377.5 L1331.3,376.9 L1334.8,376.3 L1338.3,375.8 L1341.9,375.2 L1345.4,374.6 L1349.0,374.1 L1352.6,373.5 L1356.2,372.9 L1359.8,372.4 L1363.4,371.8 L1367.1,371.2 L1370.7,370.7 L1374.4,370.1 L1378.1,369.5 L1381.8,369.0 L1385.5,368.4 L1389.2,367.8 L1393.0,367.3 L1396.7,366.7 L1400.5,366.1 L1404.2,365.6 L1408.0,365.0 L1411.8,364.5 L1415.7,363.9 L1419.5,363.3 L1423.3,362.8 L1427.2,362.2 L1431.1,361.6 L1435.0,361.1 L1438.9,360.5 L1442.8,359.9 L1446.7,359.4 L1450.6,358.8 L1454.6,358.2 L1458.6,357.7 L1462.6,357.1 L1466.6,356.5 L1470.6,356.0 L1474.6,355.4 L1478.7,354.8 L1482.7,354.3 L1486.8,353.7 L1490.9,353.1 L1495.0,352.6 L1499.1,352.0 L1503.3,351.4 L1507.4,350.9 L1511.6,350.3 L1515.8,349.7 L1520.0,349.2 L1524.2,348.6 L1528.4,348.0 L1532.6,347.5 L1536.9,346.9 L1541.2,346.3 L1545.4,345.8 L1549.8,345.2 L1554.1,344.6 L1558.4,344.1 L1562.8,343.5 L1567.1,342.9 L1571.5,342.4 L1575.9,341.8 L1580.3,341.2 L1584.8,340.7 L1589.2,340.1 L1593.7,339.5 L1598.1,339.0 L1602.6,338.4 L1607.2,337.8 L1611.7,337.3 L1616.2,336.7 L1620.8,336.1 L1625.4,335.6 L1630.0,335.0 L1634.6,334.5 L1639.2,333.9 L1643.8,333.3 L1648.5,332.8 L1653.2,332.2 L1657.9,331.6 L1662.6,331.1 L1667.3,330.5 L1672.1,329.9 L1676.8,329.4 L1681.6,328.8 L1686.4,328.2 L1691.2,327.7 L1696.1,327.1 L1700.9,326.5 L1705.8,326.0 L1710.7,325.4 L1715.6,324.8 L1720.5,324.3 L1725.5,323.7 L1730.4,323.1 L1735.4,322.6 L1740.4,322.0 L1745.4,321.4 L1750.4,320.9 L1755.5,320.3 L1760.6,319.7 L1765.6,319.2 L1770.7,318.6 L1775.9,318.0 L1781.0,317.5 L1786.2,316.9 L1791.4,316.3 L1796.6,315.8 L1801.8,315.2 L1807.0,314.6 L1812.3,314.1 L1817.5,313.5 L1822.8,312.9 L1828.1,312.4 L1833.5,311.8 L1838.8,311.2 L1844.2,310.7 L1849.6,310.1 L1855.0,309.5 L1860.4,309.0 L1865.9,308.4 L1871.4,307.8 L1876.8,307.3 L1882.4,306.7 L1887.9,306.2 L1893.4,305.6 L1899.0,305.0 L1904.6,304.5 L1910.2,303.9 L1915.8,303.3 L1921.5,302.8 L1927.2,302.2 L1932.9,301.6 L1938.6,301.1 L1944.3,300.5 L1950.1,299.9 L1955.8,299.4 L1961.6,298.8 L1967.5,298.2 L1973.3,297.7 L1979.2,297.1 L1985.0,296.5 L1990.9,296.0 L1996.9,295.4 L2002.8,294.8 L2008.8,294.3 L2014.8,293.7 L2020.8,293.1 L2026.8,292.6 L2032.9,292.0 L2039.0,291.4 L2045.1,290.9 L2051.2,290.3 L2057.3,289.7 L2063.5,289.2 L2069.7,288.6 L2075.9,288.0 L2082.1,287.5 L2088.4,286.9 L2094.7,286.3 L2101.0,285.8 L2107.3,285.2 L2113.6,284.6 L2120.0,284.1 L2126.4,283.5 L2132.8,282.9 L2139.3,282.4 L2145.7,281.8 L2152.2,281.2 L2158.7,280.7 L2165.3,280.1 L2171.8,279.5 L2178.4,279.0 L2185.0,278.4 L2191.7,277.8 L2198.3,277.3 L2205.0,276.7 L2211.7,276.2 L2218.4,275.6 L2225.2,275.0 L2232.0,274.5 L2238.8,273.9 L2245.6,273.3 L2252.4,272.8 L2259.3,272.2 L2266.2,271.6 L2273.1,271.1 L2280.1,270.5 L2287.1,269.9 L2294.1,269.4 L2301.1,268.8 L2308.2,268.2 L2315.2,267.7 L2322.3,267.1 L2329.5,266.5 L2336.6,266.0 L2343.8,265.4 L2351.0,264.8 L2358.3,264.3 L2365.5,263.7 L2372.8,263.1 L2380.1,262.6 L2387.5,262.0 L2394.8,261.4 L2402.2,260.9 L2409.7,260.3 L2417.1,259.7 L2424.6,259.2 L2432.1,258.6 L2439.6,258.0 L2447.2,257.5 L2454.8,256.9 L2462.4,256.3 L2470.0,255.8 L2477.7,255.2 L2485.4,254.6 L2493.1,254.1 L2500.9,253.5 L2508.6,252.9 L2516.4,252.4 L2524.3,251.8 L2532.1,251.2 L2540.0,250.7 L2548.0,250.1 L2555.9,249.5 L2563.9,249.0 L2571.9,248.4 L2579.9,247.8 L2588.0,247.3 L2596.1,246.7 L2604.2,246.2 L2612.4,245.6 L2620.6,245.0 L2628.8,244.5 L2637.0,243.9 L2645.3,243.3 L2653.6,242.8 L2662.0,242.2 L2670.3,241.6 L2678.7,241.1 L2687.2,240.5 L2695.6,239.9 L2704.1,239.4 L2712.6,238.8 L2721.2,238.2 L2729.8,237.7 L2738.4,237.1 L2747.0,236.5 L2755.7,236.0 L2764.4,235.4 L2773.2,234.8 L2781.9,234.3 L2790.7,233.7 L2799.6,233.1 L2808.4,232.6 L2817.3,232.0 L2826.3,231.4 L2835.2,230.9 L2844.2,230.3 L2853.3,229.7 L2862.3,229.2 L2871.4,228.6 L2880.5,228.0 L2889.7,227.5 L2898.9,226.9 L2908.1,226.3 L2917.4,225.8 L2926.7,225.2 L2936.0,224.6 L2945.4,224.1 L2954.8,223.5 L2964.2,222.9 L2973.7,222.4 L2983.2,221.8 L2992.7,221.2 L3002.3,220.7 L3011.9,220.1 L3021.5,219.5 L3031.2,219.0 L3040.9,218.4 L3050.7,217.8 L3060.5,217.3 L3070.3,216.7 L3080.1,216.2 L3090.0,215.6 L3099.9,215.0 L3109.9,214.5 L3119.9,213.9 L3129.9,213.3 L3140.0,212.8 L3150.1,212.2 L3160.3,211.6 L3170.4,211.1 L3180.7,210.5 L3190.9,209.9 L3201.2,209.4 L3211.5,208.8 L3221.9,208.2 L3232.3,207.7 L3242.7,207.1 L3253.2,206.5 L3263.7,206.0 L3274.3,205.4 L3284.9,204.8 L3295.5,204.3 L3306.2,203.7 L3316.9,203.1 L3327.7,202.6 L3338.5,202.0 L3349.3,201.4 L3360.2,200.9 L3371.1,200.3 L3382.0,199.7 L3393.0,199.2 L3404.0,198.6 L3415.1,198.0 L3426.2,197.5 L3437.4,196.9 L3448.5,196.3 L3459.8,195.8 L3471.0,195.2 L3482.4,194.6 L3493.7,194.1 L3505.1,193.5 L3516.5,192.9 L3528.0,192.4 L3539.5,191.8 L3551.1,191.2 L3562.7,190.7" stroke="#008000" stroke-width="11.8" stroke-dasharray="33 13 27 13 6 12"/>
<path d="M363.2,1510.4 L363.2,1507.0 L363.3,1503.6 L363.3,1500.2 L363.3,1496.8 L363.3,1493.5 L363.3,1490.1 L363.3,1486.7 L363.3,1483.3 L363.3,1479.9 L363.4,1476.5 L363.4,1473.1 L363.4,1469.7 L363.4,1466.3 L363.4,1463.0 L363.4,1459.6 L363.5,1456.2 L363.5,1452.8 L363.5,1449.4 L363.5,1446.0 L363.5,1442.6 L363.5,1439.2 L363.6,1435.8 L363.6,1432.5 L363.6,1429.1 L363.6,1425.7 L363.6,1422.3 L363.7,1418.9 L363.7,1415.5 L363.7,1412.1 L363.7,1408.7 L363.7,1405.3 L363.8,1402.0 L363.8,1398.6 L363.8,1395.2 L363.8,1391.8 L363.9,1388.4 L363.9,1385.0 L363.9,1381.6 L363.9,1378.2 L364.0,1374.8 L364.0,1371.5 L364.0,1368.1 L364.1,1364.7 L364.1,1361.3 L364.1,1357.9 L364.1,1354.5 L364.2,1351.1 L364.2,1347.7 L364.2,1344.3 L364.3,1340.9 L364.3,1337.6 L364.4,1334.2 L364.4,1330.8 L364.4,1327.4 L364.5,1324.0 L364.5,1320.6 L364.5,1317.2 L364.6,1313.8 L364.6,1310.4 L364.7,1307.1 L364.7,1303.7 L364.8,1300.3 L364.8,1296.9 L364.8,1293.5 L364.9,1290.1 L364.9,1286.7 L365.0,1283.3 L365.0,1279.9 L365.1,1276.6 L365.1,1273.2 L365.2,1269.8 L365.3,1266.4 L365.3,1263.0 L365.4,1259.6 L365.4,1256.2 L365.5,1252.8 L365.5,1249.4 L365.6,1246.1 L365.7,1242.7 L365.7,1239.3 L365.8,1235.9 L365.9,1232.5 L365.9,1229.1 L366.0,1225.7 L366.1,1222.3 L366.2,1218.9 L366.2,1215.6 L366.3,1212.2 L366.4,1208.8 L366.5,1205.4 L366.6,1202.0 L366.6,1198.6 L366.7,1195.2 L366.8,1191.8 L366.9,1188.4 L367.0,1185.1 L367.1,1181.7 L367.2,1178.3 L367.3,1174.9 L367.4,1171.5 L367.5,1168.1 L367.6,1164.7 L367.7,1161.3 L367.8,1157.9 L367.9,1154.6 L368.0,1151.2 L368.2,1147.8 L368.3,1144.4 L368.4,1141.0 L368.5,1137.6 L368.7,1134.2 L368.8,1130.8 L368.9,1127.4 L369.1,1124.1 L369.2,1120.7 L369.3,1117.3 L369.5,1113.9 L369.6,1110.5 L369.8,1107.1 L370.0,1103.7 L370.1,1100.3 L370.3,1096.9 L370.4,1093.6 L370.6,1090.2 L370.8,1086.8 L371.0,1083.4 L371.1,1080.0 L371.3,1076.6 L371.5,1073.2 L371.7,1069.8 L371.9,1066.4 L372.1,1063.1 L372.3,1059.7 L372.5,1056.3 L372.7,1052.9 L373.0,1049.5 L373.2,1046.1 L373.4,1042.7 L373.7,1039.3 L373.9,1035.9 L374.1,1032.6 L374.4,1029.2 L374.7,1025.8 L374.9,1022.4 L375.2,1019.0 L375.5,1015.6 L375.7,1012.2 L376.0,1008.8 L376.3,1005.4 L376.6,1002.0 L376.9,998.7 L377.2,995.3 L377.6,991.9 L377.9,988.5 L378.2,985.1 L378.6,981.7 L378.9,978.3 L379.3,974.9 L379.6,971.5 L380.0,968.2 L380.4,964.8 L380.8,961.4 L381.2,958.0 L381.6,954.6 L382.0,951.2 L382.4,947.8 L382.9,944.4 L383.3,941.0 L383.7,937.7 L384.2,934.3 L384.7,930.9 L385.2,927.5 L385.7,924.1 L386.2,920.7 L386.7,917.3 L387.2,913.9 L387.7,910.5 L388.3,907.2 L388.9,903.8 L389.4,900.4 L390.0,897.0 L390.6,893.6 L391.2,890.2 L391.9,886.8 L392.5,883.4 L393.2,880.0 L393.8,876.7 L394.5,873.3 L395.2,869.9 L395.9,866.5 L396.7,863.1 L397.4,859.7 L398.2,856.3 L399.0,852.9 L399.8,849.5 L400.6,846.2 L401.4,842.8 L402.3,839.4 L403.1,836.0 L404.0,832.6 L404.9,829.2 L405.8,825.8 L406.8,822.4 L407.8,819.0 L408.8,815.7 L409.8,812.3 L410.8,808.9 L411.9,805.5 L412.9,802.1 L414.0,798.7 L415.2,795.3 L416.3,791.9 L417.5,788.5 L418.7,785.2 L419.9,781.8 L421.2,778.4 L422.5,775.0 L423.8,771.6 L425.1,768.2 L426.5,764.8 L427.9,761.4 L429.4,758.0 L430.8,754.7 L432.3,751.3 L433.9,747.9 L435.4,744.5 L437.0,741.1 L438.7,737.7 L440.3,734.3 L442.0,730.9 L443.8,727.5 L445.6,724.2 L447.4,720.8 L449.2,717.4 L451.1,714.0 L453.1,710.6 L455.1,707.2 L457.1,703.8 L459.2,700.4 L461.3,697.0 L463.5,693.7 L465.7,690.3 L467.9,686.9 L470.3,683.5 L472.6,680.1 L475.0,676.7 L477.5,673.3 L480.0,669.9 L482.6,666.5 L485.3,663.1 L488.0,659.8 L490.7,656.4 L493.5,653.0 L496.4,649.6 L499.3,646.2 L502.3,642.8 L505.4,639.4 L508.5,636.0 L511.8,632.6 L515.0,629.3 L518.4,625.9 L521.8,622.5 L525.3,619.1 L528.9,615.7 L532.5,612.3 L536.3,608.9 L540.1,605.5 L544.0,602.1 L548.0,598.8 L552.0,595.4 L556.2,592.0 L560.5,588.6 L564.8,585.2 L569.3,581.8 L573.8,578.4 L578.4,575.0 L583.2,571.6 L588.0,568.3 L593.0,564.9 L598.0,561.5 L603.2,558.1 L608.5,554.7 L613.9,551.3 L619.4,547.9 L625.1,544.5 L630.8,541.1 L636.7,537.8 L642.8,534.4 L648.9,531.0 L655.2,527.6 L661.7,524.2 L668.2,520.8 L674.9,517.4 L681.8,514.0 L688.8,510.6 L696.0,507.3 L703.3,503.9 L710.8,500.5 L718.5,497.1 L726.3,493.7 L734.3,490.3 L742.5,486.9 L750.8,483.5 L759.3,480.1 L768.1,476.8 L777.0,473.4 L786.1,470.0 L795.4,466.6 L804.9,463.2 L814.6,459.8 L824.6,456.4 L834.7,453.0 L845.1,449.6 L855.7,446.3 L866.5,442.9 L877.6,439.5 L888.9,436.1 L900.5,432.7 L912.3,429.3 L924.4,425.9 L936.8,422.5 L949.4,419.1 L962.3,415.8 L975.5,412.4 L988.9,409.0 L1002.7,405.6 L1016.8,402.2 L1031.2,398.8 L1045.9,395.4 L1060.9,392.0 L1076.2,388.6 L1091.9,385.3 L1108.0,381.9 L1124.3,378.5 L1141.1,375.1 L1158.2,371.7 L1175.7,368.3 L1193.6,364.9 L1211.8,361.5 L1230.5,358.1 L1249.6,354.7 L1269.1,351.4 L1289.0,348.0 L1309.4,344.6 L1330.2,341.2 L1351.5,337.8 L1373.2,334.4 L1395.4,331.0 L1418.1,327.6 L1441.3,324.2 L1465.1,320.9 L1489.3,317.5 L1514.1,314.1 L1539.4,310.7 L1565.3,307.3 L1591.7,303.9 L1618.7,300.5 L1646.3,297.1 L1674.6,293.7 L1703.4,290.4 L1732.9,287.0 L1763.0,283.6 L1793.8,280.2 L1825.3,276.8 L1857.4,273.4 L1890.3,270.0 L1923.9,266.6 L1958.2,263.2 L1993.3,259.9 L2029.1,256.5 L2065.8,253.1 L2103.2,249.7 L2141.5,246.3 L2180.6,242.9 L2220.6,239.5 L2261.4,236.1 L2303.2,232.7 L2345.8,229.4 L2389.4,226.0 L2434.0,222.6 L2479.5,219.2 L2526.1,215.8 L2573.6,212.4 L2622.3,209.0 L2671.9,205.6 L2722.7,202.2 L2774.6,198.9 L2827.6,195.5 L2881.8,192.1 L2937.2,188.7 L2993.8,185.3 L3051.7,181.9 L3110.8,178.5 L3171.2,175.1 L3233.0,171.7 L3296.1,168.4 L3360.6,165.0 L3426.5,161.6 L3493.9,158.2 L3562.7,154.8" stroke="#00ff00" stroke-width="11.5"/>
</g></g>
<g fill="#000" stroke="none" shape-rendering="crispEdges">
<path d="M560,328 L569,328 L567,694 L558,694 Z"/>
<path d="M562.1,281.6 Q564.5,278.4 566.9,281.6 L578.2,322.5 L578.2,327.6 L574.5,329.2 L571.6,334.2 L569,331.5 L560,330.8 L557,334.9 L552.2,334.9 L550,332.6 L550,324.2 Z"/>
<path d="M559.2,742.6 L558,739.4 L547.9,696.6 L547.9,691.4 L551,687 L554,687 L558,691.1 L566.9,692 L569,689 L571,689 L577,696 L577,697.8 L566.9,738.8 L565.2,743.9 L561,743.5 Z"/>
</g>
<rect x="1673.75" y="466.8" width="308.75" height="672.3" fill="#fff" stroke="#000" stroke-width="2.9" shape-rendering="crispEdges"/>
<g shape-rendering="crispEdges">
<rect x="1688.9" y="521.9" width="17.1" height="13" fill="#ff0000"/>
<rect x="1721.0" y="521.9" width="17.0" height="13" fill="#ff0000"/>
<rect x="1753.0" y="521.9" width="17.0" height="13" fill="#ff0000"/>
<rect x="1688.9" y="631.0" width="81.1" height="13.8" fill="#0000ff"/>
<rect x="1688.9" y="740.8" width="2.1" height="14" fill="#001a66"/>
<rect x="1700.9" y="740.8" width="2.1" height="14" fill="#001a66"/>
<rect x="1713.0" y="740.8" width="2.1" height="14" fill="#001a66"/>
<rect x="1725.0" y="740.8" width="2.1" height="14" fill="#001a66"/>
<rect x="1737.0" y="740.8" width="2.1" height="14" fill="#001a66"/>
<rect x="1749.1" y="740.8" width="2.1" height="14" fill="#001a66"/>
<rect x="1761.1" y="740.8" width="2.1" height="14" fill="#001a66"/>
<rect x="1688.9" y="851.9" width="81.1" height="11" fill="#7a10e0"/>
<rect x="1688.9" y="961.0" width="2.0" height="12" fill="#008000"/>
<rect x="1701.1" y="961.0" width="16.9" height="12" fill="#008000"/>
<rect x="1727.0" y="961.0" width="2.9" height="12" fill="#008000"/>
<rect x="1738.9" y="961.0" width="16.9" height="12" fill="#008000"/>
<rect x="1766.0" y="961.0" width="2.1" height="12" fill="#008000"/>
<rect x="1688.9" y="1070.8" width="81.1" height="11" fill="#00ff00"/>
</g>
<text transform="translate(1777.60 557.80) scale(0.6195 1.01)" font-size="85.0" text-anchor="start">SF = 12</text>
<text transform="translate(1777.60 667.30) scale(0.6195 1.01)" font-size="85.0" text-anchor="start">SF = 11</text>
<text transform="translate(1777.60 777.20) scale(0.6195 1.01)" font-size="85.0" text-anchor="start">SF = 10</text>
<text transform="translate(1777.60 886.80) scale(0.6195 1.01)" font-size="85.0" text-anchor="start">SF = 9</text>
<text transform="translate(1777.60 996.40) scale(0.6195 1.01)" font-size="85.0" text-anchor="start">SF = 8</text>
<text transform="translate(1777.60 1105.70) scale(0.6195 1.01)" font-size="85.0" text-anchor="start">SF = 7</text>
<text transform="translate(219.80 168.30) scale(0.612 1)" font-size="85.0" text-anchor="end">50</text>
<text transform="translate(219.80 317.80) scale(0.612 1)" font-size="85.0" text-anchor="end">37.5</text>
<text transform="translate(219.80 467.30) scale(0.612 1)" font-size="85.0" text-anchor="end">25</text>
<text transform="translate(219.80 616.80) scale(0.612 1)" font-size="85.0" text-anchor="end">12.5</text>
<text transform="translate(219.80 766.30) scale(0.612 1)" font-size="85.0" text-anchor="end">0</text>
<text transform="translate(219.80 915.80) scale(0.612 1)" font-size="85.0" text-anchor="end">−12.5</text>
<text transform="translate(219.80 1065.30) scale(0.612 1)" font-size="85.0" text-anchor="end">−25</text>
<text transform="translate(219.80 1214.80) scale(0.612 1)" font-size="85.0" text-anchor="end">−37.5</text>
<text transform="translate(219.80 1364.30) scale(0.612 1)" font-size="85.0" text-anchor="end">−50</text>
<text transform="translate(228.50 1423.30) scale(0.612 1)" font-size="85.0" text-anchor="middle">0</text>
<text transform="translate(564.50 1423.30) scale(0.612 1)" font-size="85.0" text-anchor="middle">0.5</text>
<text transform="translate(900.50 1423.30) scale(0.612 1)" font-size="85.0" text-anchor="middle">1</text>
<text transform="translate(1236.50 1423.30) scale(0.612 1)" font-size="85.0" text-anchor="middle">1.5</text>
<text transform="translate(1572.50 1423.30) scale(0.612 1)" font-size="85.0" text-anchor="middle">2</text>
<text transform="translate(1908.50 1423.30) scale(0.612 1)" font-size="85.0" text-anchor="middle">2.5</text>
<text transform="translate(2244.50 1423.30) scale(0.612 1)" font-size="85.0" text-anchor="middle">3</text>
<text transform="translate(2124.30 1545.70) scale(0.622 1)" font-size="85.0" text-anchor="start">x 10</text>
<text transform="translate(2225.40 1493.50) scale(0.612 1)" font-size="55.0" text-anchor="start">4</text>
<text id="xl" transform="translate(1236.90 1516.60) scale(0.612 1)" font-size="104.0" text-anchor="middle">Range (m)</text>
<text id="yl" transform="translate(60.2 673.9) scale(0.63 1) rotate(-90)" font-size="101.2" text-anchor="middle">Output power (dbm)</text>
</svg></body></html>
